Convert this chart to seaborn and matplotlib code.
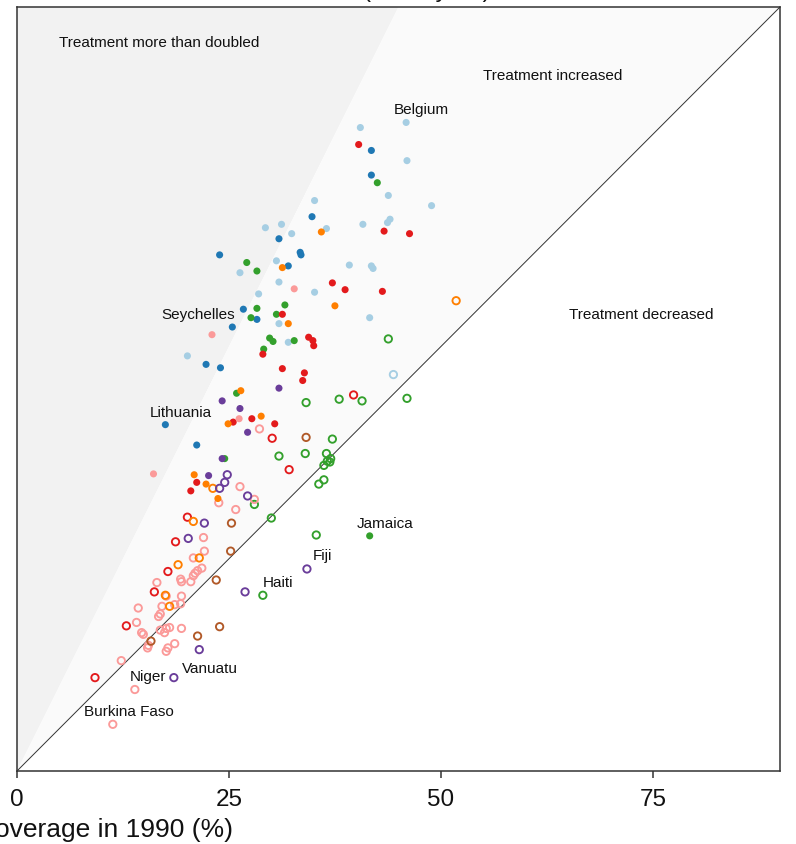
import matplotlib
matplotlib.use("Agg")
import matplotlib.pyplot as plt
import pandas as pd
import seaborn as sns

# ---- data: (coverage 1990, coverage latest) per country, grouped by colour / fill ----
light_blue_filled = [(40.5, 75.8), (45.9, 76.4), (46.0, 71.9), (43.8, 67.8), (35.1, 67.2),
                     (48.9, 66.6), (36.5, 63.9), (40.8, 64.4), (44.0, 65.0), (43.7, 64.6),
                     (29.3, 64.0), (31.2, 64.4), (32.4, 63.3), (30.6, 60.1), (26.3, 58.7),
                     (30.9, 57.6), (28.5, 56.2), (30.9, 52.7), (32.0, 50.5), (20.1, 48.9),
                     (39.2, 59.6), (41.8, 59.5), (42.0, 59.2), (35.1, 56.4), (41.6, 53.4)]
light_blue_hollow = [(44.4, 46.7)]
blue_filled = [(41.8, 73.1), (41.8, 70.2), (34.8, 65.3), (30.9, 62.7), (23.9, 60.8),
               (33.4, 61.1), (33.5, 60.8), (32.0, 59.5), (26.7, 54.4), (28.3, 53.2),
               (25.4, 52.3), (22.3, 47.9), (24.0, 47.5), (17.5, 40.8), (21.2, 38.4)]
green_filled = [(42.5, 69.3), (27.1, 59.9), (28.3, 58.9), (31.6, 54.9), (28.3, 54.5),
                (27.6, 53.4), (30.6, 53.8), (29.8, 51.0), (30.2, 50.6), (32.7, 50.7),
                (29.1, 49.7), (25.9, 44.5), (24.5, 36.8), (41.6, 27.7)]
green_hollow = [(43.8, 50.9), (34.1, 43.4), (38.0, 43.8), (40.7, 43.6), (46.0, 43.9),
                (37.2, 39.1), (30.9, 37.1), (34.0, 37.4), (36.5, 37.4), (36.6, 36.5),
                (37.0, 36.8), (36.9, 36.4), (36.2, 36.0), (36.2, 34.3), (35.6, 33.8),
                (28.0, 31.4), (30.0, 29.8), (35.3, 27.8), (29.0, 20.7)]
red_filled = [(40.3, 73.8), (43.3, 63.6), (46.3, 63.3), (31.3, 53.8), (34.4, 51.1),
              (29.0, 49.1), (31.3, 47.4), (33.9, 46.9), (33.7, 46.0), (37.2, 57.5),
              (38.7, 56.7), (43.1, 56.5), (34.9, 50.7), (35.0, 50.1), (25.5, 41.1),
              (27.7, 41.5), (30.4, 40.9), (21.2, 34.0), (20.5, 33.0)]
red_hollow = [(39.7, 44.3), (30.1, 39.2), (32.1, 35.5), (20.1, 29.9), (18.7, 27.0),
              (17.8, 23.5), (16.2, 21.1), (12.9, 17.1), (9.2, 11.0)]
pink_filled = [(32.7, 56.8), (23.0, 51.4), (26.2, 41.5), (16.1, 35.0)]
pink_hollow = [(28.6, 40.3), (26.3, 33.5), (28.0, 32.0), (23.8, 31.6), (25.8, 30.8),
               (22.0, 27.5), (22.1, 25.9), (20.8, 25.1), (21.8, 23.9), (21.3, 23.6),
               (21.0, 23.3), (20.8, 23.0), (16.5, 22.2), (19.3, 22.6), (19.4, 22.3),
               (20.5, 22.3), (17.6, 20.6), (19.4, 20.6), (19.3, 19.7), (17.1, 19.4),
               (18.6, 19.6), (14.3, 19.2), (16.9, 18.5), (16.7, 18.2), (14.1, 17.5),
               (14.7, 16.3), (14.9, 16.1), (16.9, 16.6), (17.4, 16.3), (17.6, 16.8),
               (18.0, 16.9), (19.4, 16.8), (15.5, 14.8), (15.4, 14.5), (18.6, 15.0),
               (17.8, 14.5), (17.6, 14.1), (12.3, 13.0), (13.9, 9.6), (11.3, 5.5)]
orange_filled = [(35.9, 63.5), (31.3, 59.3), (32.0, 52.7), (37.5, 54.8), (26.4, 44.8),
                 (24.9, 40.9), (28.8, 41.8), (20.9, 34.9), (22.3, 33.8), (23.7, 32.1)]
orange_hollow = [(51.8, 55.4), (23.1, 33.3), (20.8, 29.4), (21.5, 25.1), (19.0, 24.3),
                 (17.5, 20.7), (18.0, 19.4)]
purple_filled = [(30.9, 45.1), (24.2, 43.6), (26.3, 42.7), (27.2, 39.9), (24.2, 36.8),
                 (22.6, 34.8)]
purple_hollow = [(24.8, 34.9), (24.5, 34.0), (23.9, 33.3), (27.2, 32.4), (22.1, 29.2),
                 (20.2, 27.4), (26.9, 21.1), (34.2, 23.8), (21.5, 14.3), (18.5, 11.0)]
brown_hollow = [(34.1, 39.3), (25.3, 29.2), (25.2, 25.9), (23.5, 22.5), (23.9, 17.0),
                (21.3, 15.9), (15.8, 15.3)]

palette = {"light blue": "#a6cee3", "blue": "#1f78b4", "green": "#33a02c",
           "red": "#e31a1c", "pink": "#fb9a99", "orange": "#ff7f00",
           "purple": "#6a3d9a", "brown": "#b15928"}

filled_groups = [("light blue", light_blue_filled), ("blue", blue_filled),
                 ("green", green_filled), ("red", red_filled), ("pink", pink_filled),
                 ("orange", orange_filled), ("purple", purple_filled)]
hollow_groups = [("light blue", light_blue_hollow), ("green", green_hollow),
                 ("red", red_hollow), ("pink", pink_hollow), ("orange", orange_hollow),
                 ("purple", purple_hollow), ("brown", brown_hollow)]

# labelled countries: (name, point, text offset in pixels)
labels = [("Belgium", light_blue_filled[1], (15.5, 13)),
          ("Seychelles", blue_filled[10], (-34, 13)),
          ("Lithuania", blue_filled[13], (15.5, 13)),
          ("Jamaica", green_filled[-1], (15.5, 13)),
          ("Fiji", purple_hollow[7], (15.5, 14)),
          ("Haiti", green_hollow[-1], (15.5, 13.5)),
          ("Vanuatu", purple_hollow[-1], (36, 10)),
          ("Niger", pink_hollow[-2], (13.5, 13.5)),
          ("Burkina Faso", pink_hollow[-1], (16, 13))]

zones = [("Treatment more than doubled", 16.75, 85.9),
         ("Treatment increased", 63.2, 82.0),
         ("Treatment decreased", 73.6, 53.8)]


def to_frame(groups):
    rows = [(name, x, y) for name, pts in groups for x, y in pts]
    return pd.DataFrame(rows, columns=["group", "cov_1990", "cov_latest"])


filled_df = to_frame(filled_groups)
hollow_df = to_frame(hollow_groups)

sns.set_theme(style="white")
plt.rcParams["font.family"] = ["Liberation Sans", "DejaVu Sans"]

fig = plt.figure(figsize=(7.96, 8.45), dpi=100)
ax = fig.add_axes([17 / 796, 73 / 845, 763 / 796, 764 / 845])

LIM = 90
# shaded zones: more than doubled / increased / decreased
ax.fill([0, LIM / 2, 0], [0, LIM, LIM], color="#f2f2f2", lw=0, zorder=0)
ax.fill([0, LIM, LIM / 2], [0, LIM, LIM], color="#fafafa", lw=0, zorder=0)
ax.plot([0, LIM], [0, LIM], color="#333333", lw=0.7, zorder=1)

sns.scatterplot(data=hollow_df, x="cov_1990", y="cov_latest", hue="group",
                palette=palette, s=28, linewidth=0, legend=False, ax=ax, zorder=2)
coll = ax.collections[-1]
coll.set_edgecolors(coll.get_facecolors())
coll.set_facecolors("none")
coll.set_linewidths(1.35)

sns.scatterplot(data=filled_df, x="cov_1990", y="cov_latest", hue="group",
                palette=palette, s=26, linewidth=0, legend=False, ax=ax, zorder=3)

for name, (px, py), (dx, dy) in labels:
    ax.annotate(name, xy=(px, py), xytext=(dx, dy), textcoords="offset pixels",
                ha="center", va="center", fontsize=11, color="#111111", zorder=4)

for text, tx, ty in zones:
    ax.text(tx, ty, text, ha="center", va="center", fontsize=11, color="#111111")

ax.set_xlim(0, LIM)
ax.set_ylim(0, LIM)
ax.set_xticks([0, 25, 50, 75])
ax.set_yticks([])
ax.set_ylabel("")
for sp in ax.spines.values():
    sp.set_visible(True)
    sp.set_color("#333333")
    sp.set_linewidth(1.1)
ax.tick_params(axis="x", bottom=True, length=5, width=1.1, color="#333333",
               labelsize=17.5, pad=7, labelcolor="#111111")

ax.set_xlabel("Treatment coverage in 1990 (%)", fontsize=19, color="#111111")
ax.xaxis.set_label_coords((233 - 17) / 763, -(830 - 772) / 764)
ax.xaxis.label.set_ha("right")
ax.xaxis.label.set_va("center")

fig.text(491 / 796, 1 + 3 / 845, "Treatment rate in 2015 (latest year)",
         ha="right", va="baseline", fontsize=17.5, color="#111111")

fig.savefig("out.png", dpi=100)
